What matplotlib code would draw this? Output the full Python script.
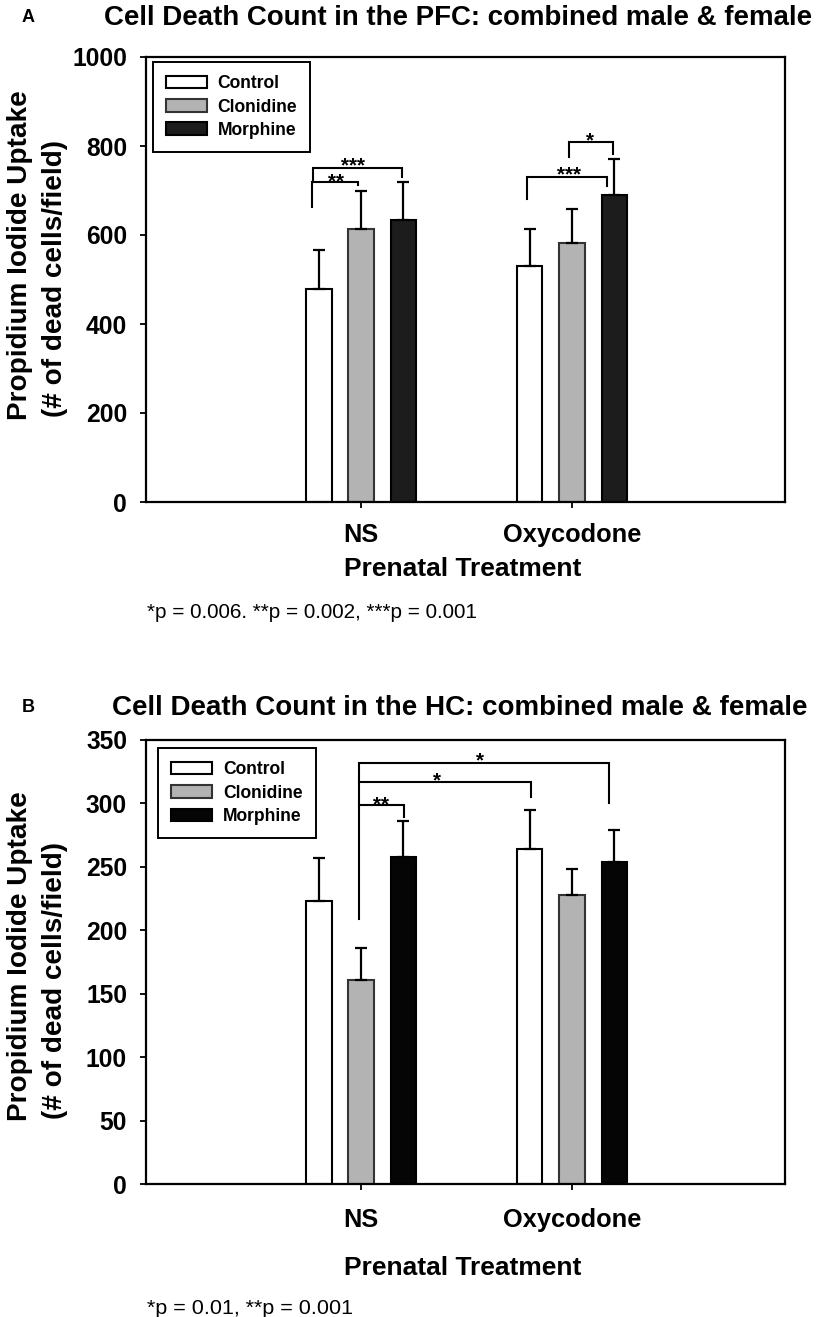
import matplotlib
matplotlib.use("Agg")
import matplotlib.pyplot as plt
from matplotlib.patches import Patch
from matplotlib.transforms import ScaledTranslation

plt.rcParams['font.family'] = ['Liberation Sans', 'DejaVu Sans']

groups = ["NS", "Oxycodone"]
series = ["Control", "Clonidine", "Morphine"]

# Panel A (PFC)
pfc_means = {"Control": [478, 530], "Clonidine": [614, 583], "Morphine": [634, 690]}
pfc_errs = {"Control": [88, 84], "Clonidine": [84, 75], "Morphine": [84, 80]}
# Panel B (HC)
hc_means = {"Control": [223, 264], "Clonidine": [161, 228], "Morphine": [258, 254]}
hc_errs = {"Control": [34, 31], "Clonidine": [25, 20], "Morphine": [28, 25]}

# significance brackets: (x_left, x_right, y_top, y_left_end, y_right_end, label, label_x, label_y)
pfc_brackets = [
    (0.765, 0.985, 720, 664, 712, "**", 0.88, 735),
    (0.773, 1.192, 750, 720, 731, "***", 0.96, 771),
    (1.785, 2.166, 730, 680, 710, "***", 1.986, 750),
    (1.986, 2.194, 809, 775, 782, "*", 2.084, 825),
]
hc_brackets = [
    (0.992, 1.202, 298.4, 209, 289, "**", 1.093, 304),
    (0.992, 1.804, 317, 298.4, 305, "*", 1.36, 322.7),
    (0.992, 2.177, 332, 317, 300.5, "*", 1.563, 339),
]

W, H = 824, 1317
fig = plt.figure(figsize=(W / 100, H / 100), dpi=100)
renderer = fig.canvas.get_renderer()


def fx(px):
    return px / W


def fy(py):
    return 1 - py / H


def size_for(s, target_px, along='w', **kw):
    t = fig.text(0, 0, s, fontsize=10, **kw)
    bb = t.get_window_extent(renderer)
    cur = bb.width if along == 'w' else bb.height
    t.remove()
    return 10 * target_px / cur


BOLD = dict(fontweight='bold')
tick_fs = size_for("1000", 55, **BOLD)
xt_fs = size_for("Oxycodone", 138, **BOLD)
xlab_fs = size_for("Prenatal Treatment", 237, **BOLD)
ylab_fs = size_for("Propidium Iodide Uptake", 329, **BOLD)
leg_fs = size_for("Clonidine", 80, **BOLD)
star_fs = size_for("***", 24, **BOLD)
titleA_fs = size_for("Cell Death Count in the PFC: combined male & female", 708, **BOLD)
titleB_fs = size_for("Cell Death Count in the HC: combined male & female", 696, **BOLD)
footA_fs = size_for("*p = 0.006. **p = 0.002, ***p = 0.001", 331)
footB_fs = size_for("*p = 0.01, **p = 0.001", 204)

offsets = [-0.2, 0.0, 0.2]
bar_w = 0.12
AX_L, AX_R = 146, 785


def draw_panel(top, bottom, means, errs, colors, edgecolors, ylim, yticks, brackets,
               letter, title, title_fs, title_x, title_y, xt_y, xlab_y,
               ylab_starts, foot, foot_fs, foot_y, leg_anchor):
    ax = fig.add_axes([fx(AX_L), fy(bottom), fx(AX_R) - fx(AX_L), fy(top) - fy(bottom)])
    for i, s in enumerate(series):
        xs = [k + 1 + offsets[i] for k in range(len(groups))]
        ax.bar(xs, means[s], width=bar_w, color=colors[i], edgecolor=edgecolors[i],
               linewidth=1.5, zorder=2)
        ax.errorbar(xs, means[s], yerr=[[0] * len(xs), errs[s]], fmt='none',
                    ecolor='black', elinewidth=1.6, capsize=4.3, capthick=1.6, zorder=3)
    star_shift = ScaledTranslation(0, -0.58 * star_fs / 72, fig.dpi_scale_trans)
    for (xl, xr, yt, yle, yre, lab, lx, ly) in brackets:
        ax.plot([xl, xl, xr, xr], [yle, yt, yt, yre], color='black', lw=1.5,
                solid_joinstyle='miter', zorder=4)
        ax.text(lx, ly, lab, ha='center', va='baseline', fontsize=star_fs,
                fontweight='bold', transform=ax.transData + star_shift)
    ax.set_xlim(-0.02, 3.01)
    ax.set_ylim(*ylim)
    ax.set_yticks(yticks)
    ax.set_yticklabels([str(t) for t in yticks], fontsize=tick_fs, fontweight='bold')
    ax.set_xticks([1, 2])
    ax.set_xticklabels(groups, fontsize=xt_fs, fontweight='bold')
    tick_len_pt = 6 * 72 / 100
    ax.tick_params(axis='both', direction='out', length=tick_len_pt, width=1.3)
    ax.tick_params(axis='y', pad=13 * 72 / 100)
    # x tick label: center at xt_y px
    xt_px = xt_fs * 100 / 72
    top_of_label = xt_y - 0.56 * xt_px
    ax.tick_params(axis='x', pad=(top_of_label - bottom - 6) * 72 / 100)
    for sp in ax.spines.values():
        sp.set_linewidth(1.6)
    handles = [Patch(facecolor=colors[i], edgecolor=edgecolors[i], linewidth=1.5, label=s)
               for i, s in enumerate(series)]
    fs_px = leg_fs * 100 / 72
    leg = ax.legend(handles=handles, loc='upper left', bbox_to_anchor=leg_anchor,
                    borderaxespad=0, fancybox=False, edgecolor='black', framealpha=1,
                    prop={'weight': 'bold', 'size': leg_fs}, handlelength=41 / fs_px,
                    handleheight=13 / fs_px, labelspacing=(24 - fs_px) / fs_px,
                    borderpad=0.75, handletextpad=0.6)
    leg.get_frame().set_linewidth(1.4)
    fig.text(fx(20), fy(ylab_starts[0]), "Propidium Iodide Uptake", rotation=90,
             rotation_mode='anchor', ha='left', va='center', fontsize=ylab_fs,
             fontweight='bold')
    fig.text(fx(55), fy(ylab_starts[1]), "(# of dead cells/field)", rotation=90,
             rotation_mode='anchor', ha='left', va='center', fontsize=ylab_fs,
             fontweight='bold')
    fig.text(fx(463), fy(xlab_y), "Prenatal Treatment", ha='center', va='center',
             fontsize=xlab_fs, fontweight='bold')
    fig.text(fx(title_x), fy(title_y), title, ha='center', va='center', fontsize=title_fs,
             fontweight='bold')
    fig.text(fx(28), fy(title_y), letter, ha='center', va='center', fontsize=13,
             fontweight='bold')
    fig.text(fx(147), fy(foot_y), foot, ha='left', va='center', fontsize=foot_fs)
    return ax


draw_panel(57, 502, pfc_means, pfc_errs,
           ['white', '#b3b3b3', '#1c1c1c'], ['black', '#333333', 'black'],
           (0, 1000), [0, 200, 400, 600, 800, 1000], pfc_brackets,
           "A", "Cell Death Count in the PFC: combined male & female", titleA_fs, 458, 18,
           537, 569, (420, 417),
           "*p = 0.006. **p = 0.002, ***p = 0.001", footA_fs, 613, (0.011, 0.989))

draw_panel(740, 1184, hc_means, hc_errs,
           ['white', '#b3b3b3', '#050505'], ['black', '#333333', 'black'],
           (0, 350), [0, 50, 100, 150, 200, 250, 300, 350], hc_brackets,
           "B", "Cell Death Count in the HC: combined male & female", titleB_fs, 460, 708,
           1222, 1268, (1121, 1119),
           "*p = 0.01, **p = 0.001", footB_fs, 1308, (0.019, 0.982))

fig.savefig("out.png", dpi=100)
